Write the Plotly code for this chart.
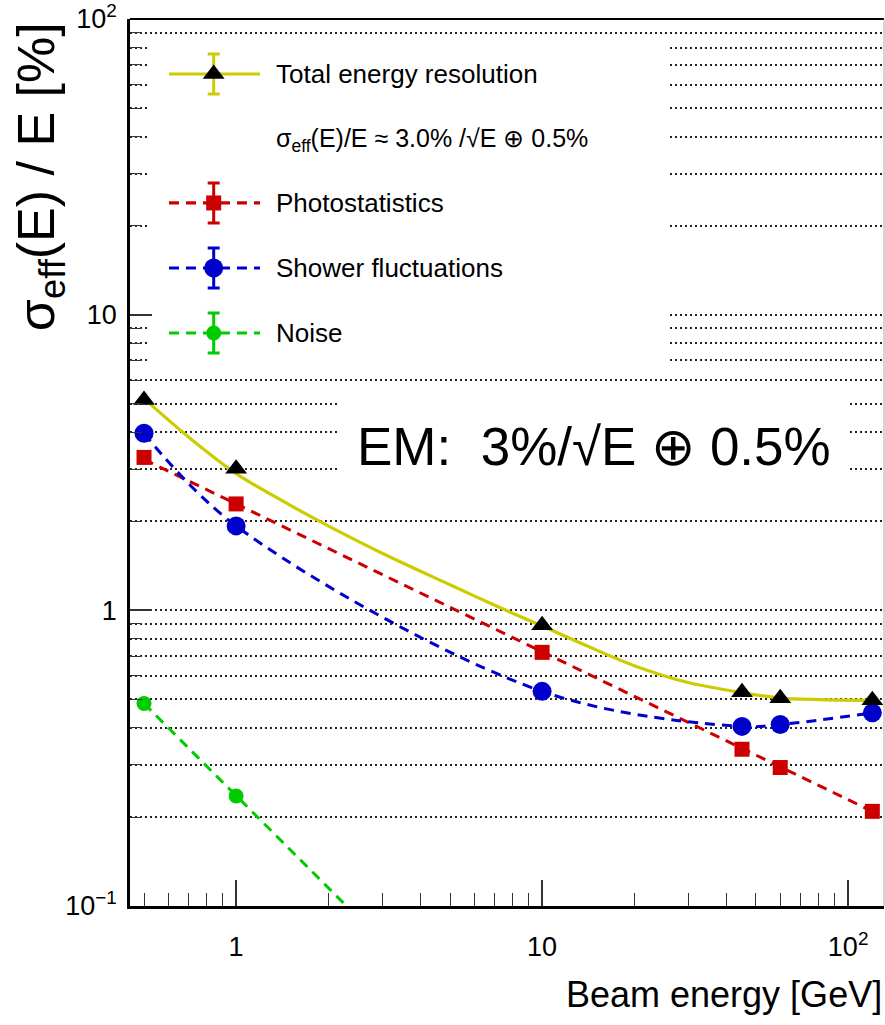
import plotly.graph_objects as go

# ---------------- data ----------------
energy = [0.5, 1, 10, 45, 60, 120]
total_res = [5.15, 3.01, 0.89, 0.528, 0.504, 0.496]
photostat = [3.29, 2.29, 0.721, 0.339, 0.294, 0.209]
shower = [3.97, 1.93, 0.532, 0.405, 0.411, 0.450]
noise_energy = [0.5, 1]
noise = [0.484, 0.2355]

# fitted curves
total_curve_e = [0.5, 0.7, 1, 1.5, 2, 3, 5, 7, 10, 15, 20, 30, 45, 60, 80, 120]
total_curve = [5.2, 3.85, 2.9, 2.27, 1.93, 1.56, 1.22, 1.04, 0.885, 0.735, 0.65, 0.57,
               0.527, 0.505, 0.499, 0.496]
photo_fit_e = [0.5, 120]
photo_fit = [3.24, 0.209]
noise_fit_e = [0.5, 2.5]
noise_fit = [0.484, 0.0915]

# axis ticks
x_tickvals = [1, 10, 100]
x_ticktext = ["1", "10", "10<sup>2</sup>"]
x_minor = [m * 10 ** k for k in (-1, 0, 1) for m in range(2, 10) if 0.45 <= m * 10 ** k <= 131]
y_tickvals = [0.1, 1, 10, 100]
y_ticktext = ["10<sup>\u22121</sup>", "1", "10", "10<sup>2</sup>"]
y_minor = [m * 10 ** k for k in (-1, 0, 1) for m in range(2, 10)]

legend_labels = ["Total energy resolution", "Photostatistics", "Shower fluctuations", "Noise"]
fit_label = "\u03c3<sub>eff</sub>(E)/E \u2248 3.0% /\u221aE \u2295 0.5%"
em_label = "EM:\u00a0 3%/\u221aE \u2295 0.5%"

# ---------------- styles ----------------
YEL = "#cccc00"
RED = "#cc0000"
BLU = "#0000cc"
GRN = "#00cc00"
FONT = "Liberation Sans, Arial, Helvetica, sans-serif"
DASH = "10px,7px"

fig = go.Figure()

# curves
fig.add_trace(go.Scatter(x=total_curve_e, y=total_curve, mode="lines",
                         line=dict(color=YEL, width=3.2, shape="spline", smoothing=0.8)))
fig.add_trace(go.Scatter(x=photo_fit_e, y=photo_fit, mode="lines",
                         line=dict(color=RED, width=3, dash=DASH)))
fig.add_trace(go.Scatter(x=energy, y=shower, mode="lines",
                         line=dict(color=BLU, width=3, dash=DASH, shape="spline", smoothing=1.0)))
fig.add_trace(go.Scatter(x=noise_fit_e, y=noise_fit, mode="lines",
                         line=dict(color=GRN, width=3, dash=DASH)))

# markers
fig.add_trace(go.Scatter(x=energy, y=photostat, mode="markers",
                         marker=dict(symbol="square", size=15, color=RED)))
fig.add_trace(go.Scatter(x=energy, y=shower, mode="markers",
                         marker=dict(symbol="circle", size=19, color=BLU)))
fig.add_trace(go.Scatter(x=noise_energy, y=noise, mode="markers",
                         marker=dict(symbol="circle", size=15, color=GRN)))
fig.add_trace(go.Scatter(x=energy, y=total_res, mode="markers",
                         marker=dict(symbol="triangle-up", size=19, color="black")))

# ---------------- white boxes (legend and label backgrounds) on an overlay 0..1 axis ----------
boxes = [(0.0265, 0.7135, 0.602, 0.9763), (0.2772, 0.951, 0.4634, 0.584)]
for bx0, bx1, by0, by1 in boxes:
    fig.add_trace(go.Scatter(x=[bx0, bx1, bx1, bx0, bx0], y=[by0, by0, by1, by1, by0],
                             mode="lines", fill="toself", fillcolor="white",
                             line=dict(width=0, color="white"), xaxis="x2", yaxis="y2",
                             hoverinfo="skip"))

# ---------------- hand-made legend ----------------
leg_rows = [0.938, 0.7926, 0.7193, 0.646]
leg_line_x = [0.0517, 0.1724]
leg_mark_x = 0.111
leg_err = 0.0225
leg_styles = [
    dict(lc=YEL, dash="solid", sym="triangle-up", mc="black", ms=19),
    dict(lc=RED, dash=DASH, sym="square", mc=RED, ms=15),
    dict(lc=BLU, dash=DASH, sym="circle", mc=BLU, ms=19),
    dict(lc=GRN, dash=DASH, sym="circle", mc=GRN, ms=15),
]
for ry, st in zip(leg_rows, leg_styles):
    fig.add_trace(go.Scatter(x=leg_line_x, y=[ry, ry], mode="lines", xaxis="x2", yaxis="y2",
                             line=dict(color=st["lc"], width=3.2, dash=st["dash"])))
    fig.add_trace(go.Scatter(x=[leg_mark_x], y=[ry], mode="markers", xaxis="x2", yaxis="y2",
                             marker=dict(symbol=st["sym"], size=st["ms"], color=st["mc"]),
                             error_y=dict(type="data", array=[leg_err], color=st["lc"],
                                          thickness=3, width=6)))

annotations = []
for ry, lab in zip(leg_rows, legend_labels):
    annotations.append(dict(x=0.1905, y=ry, xref="paper", yref="paper", text=lab,
                            showarrow=False, xanchor="left", yanchor="middle",
                            font=dict(family=FONT, size=26, color="black")))
annotations.append(dict(x=0.1905, y=0.8636, xref="paper", yref="paper", text=fit_label,
                        showarrow=False, xanchor="left", yanchor="middle",
                        font=dict(family=FONT, size=25, color="black")))
annotations.append(dict(x=0.615, y=0.5175, xref="paper", yref="paper", text=em_label,
                        showarrow=False, xanchor="center", yanchor="middle",
                        font=dict(family=FONT, size=53, color="black")))
annotations.append(dict(x=1.0, y=-0.100, xref="paper", yref="paper", text="Beam energy [GeV]",
                        showarrow=False, xanchor="right", yanchor="middle",
                        font=dict(family=FONT, size=36, color="black")))
annotations.append(dict(x=-0.119, y=0.822, xref="paper", yref="paper",
                        text="\u03c3<sub>eff</sub>(E) / E [%]", textangle=-90,
                        showarrow=False, xanchor="center", yanchor="middle",
                        font=dict(family=FONT, size=52, color="black")))

shapes = [
    dict(type="line", xref="paper", yref="paper", x0=0, x1=1, y0=1, y1=1,
         line=dict(color="black", width=2), layer="above"),
    dict(type="line", xref="paper", yref="paper", x0=1, x1=1, y0=0, y1=1,
         line=dict(color="#aaaaaa", width=1), layer="above"),
]

GRID_DASH = "2px,3px"
fig.update_layout(
    width=885, height=1025,
    margin=dict(l=130, r=1, t=19, b=119),
    paper_bgcolor="white", plot_bgcolor="white",
    showlegend=False,
    xaxis=dict(type="log", range=[-0.3468, 2.1173], tickmode="array", tickvals=x_tickvals,
               ticktext=x_ticktext, ticks="inside", ticklen=26, tickwidth=1.5, tickcolor="#333",
               showgrid=False, zeroline=False, showline=True, linecolor="black", linewidth=2.5,
               ticklabelstandoff=15,
               tickfont=dict(family=FONT, size=27, color="black"),
               minor=dict(tickmode="array", tickvals=x_minor, ticks="inside", ticklen=13,
                          tickwidth=1.3, tickcolor="#333", showgrid=False)),
    yaxis=dict(type="log", range=[-1, 2], tickmode="array", tickvals=y_tickvals,
               ticktext=y_ticktext, ticks="inside", ticklen=22, tickwidth=1.5, tickcolor="#333",
               showgrid=True, gridcolor="#222", gridwidth=1.6, griddash=GRID_DASH,
               zeroline=False, showline=True, linecolor="black", linewidth=2.5,
               ticklabelstandoff=5,
               tickfont=dict(family=FONT, size=27, color="black"),
               minor=dict(tickmode="array", tickvals=y_minor, ticks="inside", ticklen=12,
                          tickwidth=1.3, tickcolor="#333", showgrid=True, gridcolor="#222",
                          gridwidth=1.6, griddash=GRID_DASH)),
    xaxis2=dict(overlaying="x", range=[0, 1], visible=False, anchor="y2", fixedrange=True),
    yaxis2=dict(overlaying="y", range=[0, 1], visible=False, anchor="x2", fixedrange=True),
    annotations=annotations,
    shapes=shapes,
)

fig.write_html("out.html")
